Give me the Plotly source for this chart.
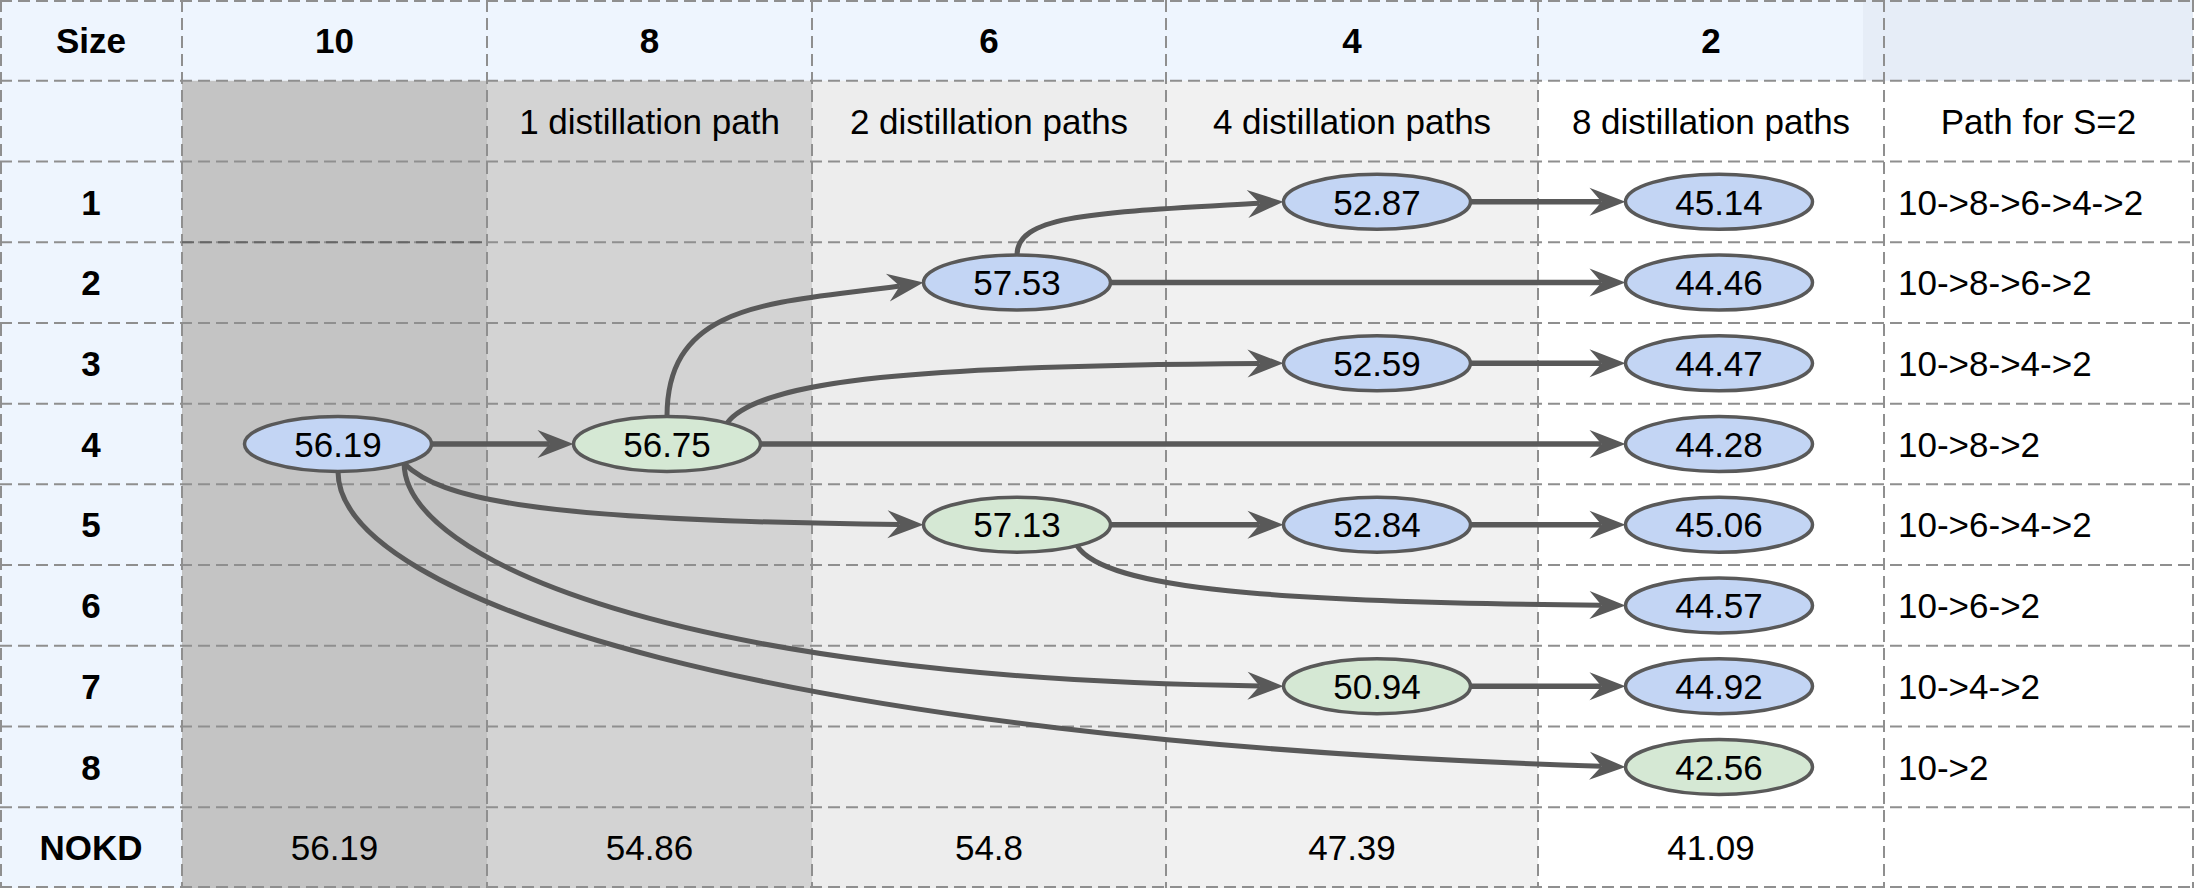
import math
import plotly.graph_objects as go

# ---------------- data ----------------
sizes = [10, 8, 6, 4, 2]
size_header = "Size"
path_header = "Path for S=2"
column_notes = ["", "1 distillation path", "2 distillation paths",
                "4 distillation paths", "8 distillation paths"]
row_labels = ["1", "2", "3", "4", "5", "6", "7", "8"]
nokd_label = "NOKD"
nokd_values = [56.19, 54.86, 54.8, 47.39, 41.09]
s2_paths = ["10->8->6->4->2", "10->8->6->2", "10->8->4->2", "10->8->2",
            "10->6->4->2", "10->6->2", "10->4->2", "10->2"]

# distillation tree: student size, table row, accuracy, teacher node
node_sizes = [10, 8, 6, 6, 4, 4, 4, 4, 2, 2, 2, 2, 2, 2, 2, 2]
node_rows = [4, 4, 2, 5, 1, 3, 5, 7, 1, 2, 3, 4, 5, 6, 7, 8]
node_values = [56.19, 56.75, 57.53, 57.13, 52.87, 52.59, 52.84, 50.94,
               45.14, 44.46, 44.47, 44.28, 45.06, 44.57, 44.92, 42.56]
node_parents = [None, 0, 1, 0, 2, 1, 3, 0, 4, 2, 5, 1, 6, 3, 7, 0]

# ---------------- layout / style ----------------
W, H = 2196, 889
COL_EDGES = [0, 182, 487, 812, 1166, 1538, 1884, 2193]
N_ROWS = 11
TABLE_H = 888
ROW_H = TABLE_H / N_ROWS
NODE_SHIFT = [3.5, 17.5, 28, 25, 8]
EA, EB = 93.5, 27.5
TEXT_DY = 4
FONT = "Liberation Sans, Arial, sans-serif"
FS = 35
EDGE_COL = "#595959"
GRID_COL = "#8f8f8f"
BLUE_FILL = "#c3d5f4"
GREEN_FILL = "#d5e8d4"
HEAD_BLUE = "#eef5fe"
HEAD_GREY = "#e6edf7"
COL_FILLS = ["#c4c4c4", "#d3d3d3", "#ededed", "#f1f1f1", "#ffffff"]
ARROW_L, ARROW_W, ARROW_N = 36, 28, 24
# curve routing: child node -> (exit angle on teacher ellipse, ctrl1 frac, ctrl2 frac)
ROUTES = {2: (90, (0.0, 0.87), (0.52, 0.87)),
          3: (-45, (0.07, 0.585), (0.30, 0.94)),
          4: (90, (0.0, 0.764), (0.387, 0.82)),
          5: (50, (0.059, 0.73), (0.40, 0.966)),
          7: (-45, (0.001, 0.431), (0.337, 0.97)),
          13: (-50, (0.051, 0.729), (0.407, 0.95)),
          15: (-90, (0.0, 0.437), (0.359, 0.915))}


def row_mid(i):
    return ROW_H * (i + 0.5)


def col_mid(j):
    return (COL_EDGES[j] + COL_EDGES[j + 1]) / 2


def node_xy(k):
    j = sizes.index(node_sizes[k])
    return col_mid(j + 1) + NODE_SHIFT[j], row_mid(node_rows[k] + 1)


shapes = []
# backgrounds
shapes.append(dict(type="rect", x0=0, x1=1863, y0=0, y1=ROW_H, fillcolor=HEAD_BLUE,
                   line_width=0, layer="below"))
shapes.append(dict(type="rect", x0=1863, x1=COL_EDGES[-1], y0=0, y1=ROW_H,
                   fillcolor=HEAD_GREY, line_width=0, layer="below"))
shapes.append(dict(type="rect", x0=0, x1=COL_EDGES[1], y0=ROW_H, y1=TABLE_H,
                   fillcolor=HEAD_BLUE, line_width=0, layer="below"))
for j, c in enumerate(COL_FILLS):
    shapes.append(dict(type="rect", x0=COL_EDGES[j + 1], x1=COL_EDGES[j + 2],
                       y0=ROW_H, y1=TABLE_H, fillcolor=c, line_width=0, layer="below"))

# dashed grid
for i in range(N_ROWS + 1):
    y = min(max(i * ROW_H, 1), TABLE_H - 1)
    shapes.append(dict(type="line", x0=0, x1=COL_EDGES[-1], y0=y, y1=y, layer="below",
                       line=dict(color=GRID_COL, width=2, dash="12px,6px")))
for xe in COL_EDGES:
    x = max(xe, 1)
    shapes.append(dict(type="line", x0=x, x1=x, y0=0, y1=TABLE_H, layer="below",
                       line=dict(color=GRID_COL, width=2, dash="12px,6px")))
shapes.append(dict(type="line", x0=COL_EDGES[1], x1=COL_EDGES[2], y0=3 * ROW_H,
                   y1=3 * ROW_H, layer="below",
                   line=dict(color="#666666", width=2, dash="12px,6px")))


def fmt(v):
    return f"{v:.2f}"


def p2s(p):
    return f"{p[0]:.2f},{p[1]:.2f}"


# edges
for k, par in enumerate(node_parents):
    if par is None:
        continue
    sx, sy = node_xy(par)
    tx, ty = node_xy(k)
    tip = (tx - EA, ty)
    if k in ROUTES:
        ang, c1, c2 = ROUTES[k]
        a = math.radians(ang)
        p0 = (sx + EA * math.cos(a), sy - EB * math.sin(a))
        dx, dy = tip[0] - p0[0], tip[1] - p0[1]
        p1 = (p0[0] + c1[0] * dx, p0[1] + c1[1] * dy)
        p2 = (p0[0] + c2[0] * dx, p0[1] + c2[1] * dy)
        d = (tip[0] - p2[0], tip[1] - p2[1])
        n = math.hypot(*d)
        d = (d[0] / n, d[1] / n)
        e3 = (tip[0] - d[0] * ARROW_N, tip[1] - d[1] * ARROW_N)
        e2 = (p2[0] - d[0] * ARROW_N, p2[1] - d[1] * ARROW_N)
        path = f"M {p2s(p0)} C {p2s(p1)} {p2s(e2)} {p2s(e3)}"
        width = 5
    else:
        p0 = (sx + EA, sy)
        d = (tip[0] - p0[0], tip[1] - p0[1])
        n = math.hypot(*d)
        d = (d[0] / n, d[1] / n)
        e3 = (tip[0] - d[0] * ARROW_N, tip[1] - d[1] * ARROW_N)
        path = f"M {p2s(p0)} L {p2s(e3)}"
        width = 5.5
    shapes.append(dict(type="path", path=path, layer="below",
                       line=dict(color=EDGE_COL, width=width)))
    nrm = (-d[1], d[0])
    b1 = (tip[0] - d[0] * ARROW_L + nrm[0] * ARROW_W / 2,
          tip[1] - d[1] * ARROW_L + nrm[1] * ARROW_W / 2)
    b2 = (tip[0] - d[0] * ARROW_L - nrm[0] * ARROW_W / 2,
          tip[1] - d[1] * ARROW_L - nrm[1] * ARROW_W / 2)
    notch = (tip[0] - d[0] * ARROW_N, tip[1] - d[1] * ARROW_N)
    shapes.append(dict(type="path", layer="below", fillcolor=EDGE_COL, line_width=0,
                       path=f"M {p2s(tip)} L {p2s(b1)} L {p2s(notch)} L {p2s(b2)} Z"))

# node ellipses
for k in range(len(node_values)):
    cx, cy = node_xy(k)
    fill = GREEN_FILL if node_parents[k] == 0 else BLUE_FILL
    shapes.append(dict(type="circle", x0=cx - EA, x1=cx + EA, y0=cy - EB, y1=cy + EB,
                       fillcolor=fill, layer="below",
                       line=dict(color=EDGE_COL, width=3.5)))

fig = go.Figure()


def text_trace(xs, ys, texts, pos="middle center"):
    fig.add_trace(go.Scatter(x=xs, y=[y + TEXT_DY for y in ys], text=texts, mode="text",
                             textposition=pos,
                             textfont=dict(family=FONT, size=FS, color="#000000"),
                             hoverinfo="skip", showlegend=False, cliponaxis=False))


# header row
text_trace([col_mid(0)] + [col_mid(j + 1) for j in range(len(sizes))],
           [row_mid(0)] * (len(sizes) + 1),
           [f"<b>{size_header}</b>"] + [f"<b>{s}</b>" for s in sizes])
# notes row
text_trace([col_mid(j + 1) for j in range(len(sizes))] + [col_mid(6)],
           [row_mid(1)] * (len(sizes) + 1), column_notes + [path_header])
# row labels
text_trace([col_mid(0)] * (len(row_labels) + 1),
           [row_mid(i + 2) for i in range(len(row_labels) + 1)],
           [f"<b>{r}</b>" for r in row_labels] + [f"<b>{nokd_label}</b>"])
# NOKD values
text_trace([col_mid(j + 1) for j in range(len(sizes))], [row_mid(10)] * len(sizes),
           [f"{v:g}" for v in nokd_values])
# paths
text_trace([COL_EDGES[6] + 14] * len(s2_paths),
           [row_mid(i + 2) for i in range(len(s2_paths))], s2_paths, "middle right")
# node values
nx, ny = zip(*[node_xy(k) for k in range(len(node_values))])
text_trace(list(nx), list(ny), [fmt(v) for v in node_values])

fig.update_layout(
    width=W, height=H, margin=dict(l=0, r=0, t=0, b=0),
    paper_bgcolor="#ffffff", plot_bgcolor="#ffffff",
    xaxis=dict(range=[0, W], visible=False, fixedrange=True),
    yaxis=dict(range=[H, 0], visible=False, fixedrange=True),
    shapes=shapes, showlegend=False,
)

fig.write_html("out.html", config={"displayModeBar": False, "staticPlot": True},
               post_script="document.body.style.margin='0';document.body.style.overflow='hidden';")
